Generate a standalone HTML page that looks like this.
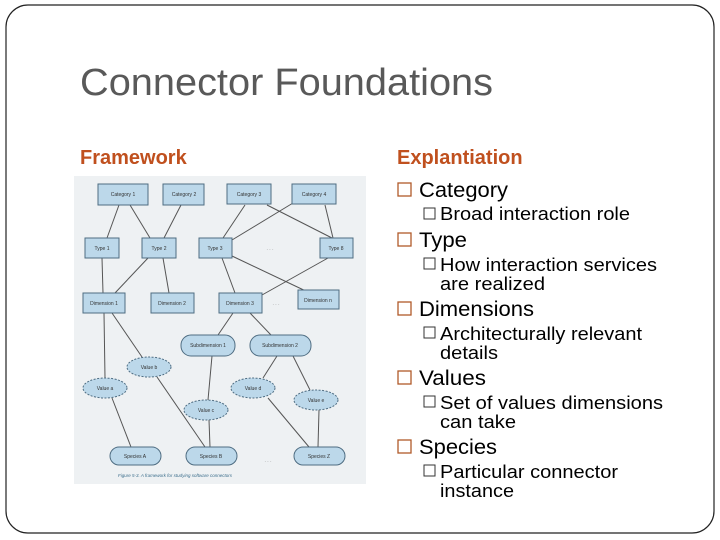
<!DOCTYPE html>
<html><head><meta charset="utf-8"><style>
html,body{margin:0;padding:0;background:#fff;}
svg{display:block;}
</style></head><body>
<svg width="720" height="540" viewBox="0 0 720 540" xmlns="http://www.w3.org/2000/svg" font-family="Liberation Sans, sans-serif">
<rect x="6" y="5" width="708" height="528" rx="22" fill="#fff" stroke="#222" stroke-width="1.2"/>
<text x="80" y="95" font-size="38" fill="#595959" textLength="413" lengthAdjust="spacingAndGlyphs">Connector Foundations</text>
<text x="80" y="164" font-size="20" font-weight="bold" fill="#c0501e">Framework</text>
<text x="397" y="164" font-size="20" font-weight="bold" fill="#c0501e">Explantiation</text>

<g font-size="21" fill="#000">
<rect x="398" y="183" width="13" height="13" fill="none" stroke="#b05a2a" stroke-width="1.3"/>
<text x="419" y="197" textLength="89" lengthAdjust="spacingAndGlyphs">Category</text>
<rect x="424" y="208" width="11" height="11" fill="none" stroke="#333" stroke-width="1"/>
<text x="440" y="220" font-size="18" textLength="190" lengthAdjust="spacingAndGlyphs">Broad interaction role</text>
<rect x="398" y="233" width="13" height="13" fill="none" stroke="#b05a2a" stroke-width="1.3"/>
<text x="419" y="247" textLength="48" lengthAdjust="spacingAndGlyphs">Type</text>
<rect x="424" y="258" width="11" height="11" fill="none" stroke="#333" stroke-width="1"/>
<text x="440" y="271" font-size="18" textLength="217" lengthAdjust="spacingAndGlyphs">How interaction services</text>
<text x="440" y="290" font-size="18" textLength="105" lengthAdjust="spacingAndGlyphs">are realized</text>
<rect x="398" y="302" width="13" height="13" fill="none" stroke="#b05a2a" stroke-width="1.3"/>
<text x="419" y="316" textLength="115" lengthAdjust="spacingAndGlyphs">Dimensions</text>
<rect x="424" y="327" width="11" height="11" fill="none" stroke="#333" stroke-width="1"/>
<text x="440" y="340" font-size="18" textLength="202" lengthAdjust="spacingAndGlyphs">Architecturally relevant</text>
<text x="440" y="359" font-size="18" textLength="58" lengthAdjust="spacingAndGlyphs">details</text>
<rect x="398" y="371" width="13" height="13" fill="none" stroke="#b05a2a" stroke-width="1.3"/>
<text x="419" y="385" textLength="67" lengthAdjust="spacingAndGlyphs">Values</text>
<rect x="424" y="396" width="11" height="11" fill="none" stroke="#333" stroke-width="1"/>
<text x="440" y="409" font-size="18" textLength="223" lengthAdjust="spacingAndGlyphs">Set of values dimensions</text>
<text x="440" y="428" font-size="18" textLength="76" lengthAdjust="spacingAndGlyphs">can take</text>
<rect x="398" y="440" width="13" height="13" fill="none" stroke="#b05a2a" stroke-width="1.3"/>
<text x="419" y="454" textLength="78" lengthAdjust="spacingAndGlyphs">Species</text>
<rect x="424" y="465" width="11" height="11" fill="none" stroke="#333" stroke-width="1"/>
<text x="440" y="478" font-size="18" textLength="178" lengthAdjust="spacingAndGlyphs">Particular connector</text>
<text x="440" y="497" font-size="18" textLength="74" lengthAdjust="spacingAndGlyphs">instance</text>
</g>

<!-- figure -->
<rect x="74" y="176" width="292" height="308" fill="#eef1f3"/>
<g stroke="#555" stroke-width="1">
<line x1="119" y1="205" x2="107" y2="238"/>
<line x1="130" y1="205" x2="150" y2="238"/>
<line x1="181" y1="205" x2="164" y2="238"/>
<line x1="245" y1="205" x2="223" y2="238"/>
<line x1="267" y1="205" x2="332" y2="238"/>
<line x1="293" y1="203" x2="232" y2="240"/>
<line x1="325" y1="205" x2="333" y2="238"/>
<line x1="102" y1="258" x2="103" y2="293"/>
<line x1="148" y1="258" x2="115" y2="293"/>
<line x1="163" y1="258" x2="169" y2="293"/>
<line x1="222" y1="258" x2="235" y2="293"/>
<line x1="232" y1="256" x2="310" y2="293"/>
<line x1="328" y1="258" x2="262" y2="295"/>
<line x1="104" y1="313" x2="105" y2="378"/>
<line x1="112" y1="313" x2="142" y2="357"/>
<line x1="233" y1="313" x2="218" y2="335"/>
<line x1="250" y1="313" x2="271" y2="335"/>
<line x1="212" y1="356" x2="208" y2="400"/>
<line x1="277" y1="356" x2="263" y2="378"/>
<line x1="293" y1="356" x2="310" y2="390"/>
<line x1="112" y1="398" x2="131" y2="447"/>
<line x1="157" y1="377" x2="205" y2="447"/>
<line x1="209" y1="420" x2="210" y2="447"/>
<line x1="268" y1="398" x2="309" y2="447"/>
<line x1="319" y1="410" x2="318" y2="447"/>
</g>
<g fill="#bcd8ea" stroke="#4f6d82" stroke-width="1">
<rect x="98" y="184" width="50" height="21"/>
<rect x="163" y="184" width="41" height="21"/>
<rect x="227" y="184" width="44" height="20"/>
<rect x="292" y="184" width="44" height="20"/>
<rect x="85" y="238" width="34" height="20"/>
<rect x="142" y="238" width="34" height="20"/>
<rect x="199" y="238" width="33" height="20"/>
<rect x="320" y="238" width="33" height="20"/>
<rect x="83" y="293" width="42" height="20"/>
<rect x="151" y="293" width="43" height="20"/>
<rect x="219" y="293" width="43" height="20"/>
<rect x="298" y="290" width="41" height="19"/>
<rect x="181" y="335" width="54" height="21" rx="10"/>
<rect x="250" y="335" width="61" height="21" rx="10"/>
<rect x="110" y="447" width="51" height="18" rx="9"/>
<rect x="186" y="447" width="51" height="18" rx="9"/>
<rect x="294" y="447" width="51" height="18" rx="9"/>
</g>
<g fill="#bcd8ea" stroke="#4f6d82" stroke-width="1" stroke-dasharray="2,1.5">
<ellipse cx="149" cy="367" rx="22" ry="10"/>
<ellipse cx="105" cy="388" rx="22" ry="10"/>
<ellipse cx="206" cy="410" rx="22" ry="10"/>
<ellipse cx="253" cy="388" rx="22" ry="10"/>
<ellipse cx="316" cy="400" rx="22" ry="10"/>
</g>
<g font-size="5" fill="#333" text-anchor="middle">
<text x="123" y="196">Category 1</text>
<text x="184" y="196">Category 2</text>
<text x="249" y="196">Category 3</text>
<text x="314" y="196">Category 4</text>
<text x="102" y="250">Type 1</text>
<text x="159" y="250">Type 2</text>
<text x="215" y="250">Type 3</text>
<text x="336" y="250">Type 8</text>
<text x="104" y="305">Dimension 1</text>
<text x="172" y="305">Dimension 2</text>
<text x="240" y="305">Dimension 3</text>
<text x="318" y="302">Dimension n</text>
<text x="208" y="347">Subdimension 1</text>
<text x="280" y="347">Subdimension 2</text>
<text x="149" y="369">Value b</text>
<text x="105" y="390">Value a</text>
<text x="206" y="412">Value c</text>
<text x="253" y="390">Value d</text>
<text x="316" y="402">Value e</text>
<text x="135" y="458">Species A</text>
<text x="211" y="458">Species B</text>
<text x="319" y="458">Species Z</text>
<text x="270" y="250" fill="#888">. . .</text>
<text x="276" y="305" fill="#888">. . .</text>
<text x="268" y="462" fill="#888">. . .</text>
</g>
<text x="118" y="477" font-size="4.5" fill="#3c6e8c" font-style="italic">Figure 5-3. A framework for studying software connectors</text>
</svg>
</body></html>
